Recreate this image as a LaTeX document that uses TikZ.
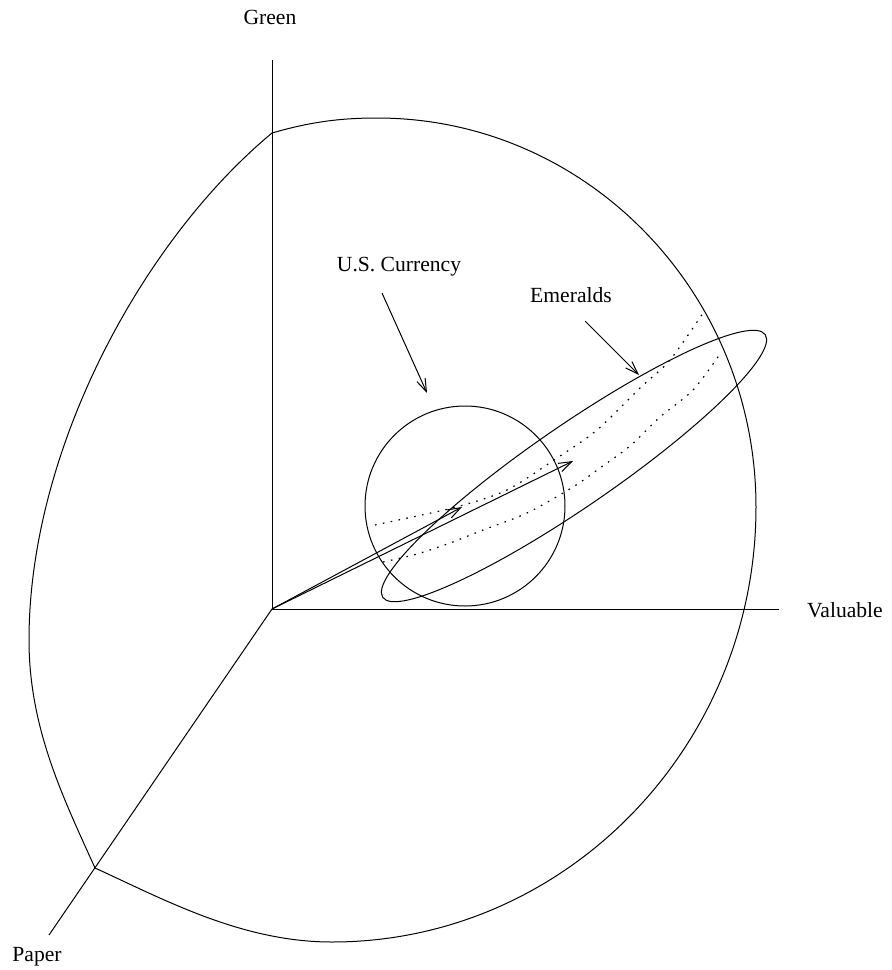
\documentclass[tikz,border=0pt]{standalone}
\usepackage{fontspec}
\setmainfont{Liberation Serif}
\usepackage{tikz}
\usetikzlibrary{
  arrows.meta,
  shapes.geometric
}

\begin{document}
\begin{tikzpicture}[
    x=0.5pt, y=-0.5pt,
    line width=0.5pt,
    >={Straight Barb[length=6.5pt,width=4.5pt]},
    every node/.style={font=\fontsize{10.8}{13}\selectfont, inner sep=0pt},
    dotline/.style={line width=0.6pt, dash pattern=on 0.8pt off 3.2pt}
]
\useasboundingbox (0,0) rectangle (891,970);

% ========== 坐标轴 ==========
\coordinate (O) at (272,609);
\coordinate (Gtop) at (272,60);
\coordinate (Vend) at (779,609);
\coordinate (Pend) at (49,935);
\draw (O) -- (Gtop);
\draw (O) -- (Vend);
\draw (O) -- (Pend);

% ========== 坐标轴标签 ==========
\node (green) at (270,17) {Green};
\node (valuable) at (845,610) {Valuable};
\node (paper) at (37,957) {Paper};

% ========== 球面轮廓 ==========
\coordinate (Top) at (272,133);
\coordinate (Kink) at (95,868);
\draw (Top) .. controls (310,122) and (340,118) .. (377,118)
      .. controls (587,118) and (756,293) .. (756,507)
      .. controls (756,746) and (566,942) .. (332,942)
      .. controls (242,942) and (165,900) .. (Kink);
\draw (Top) .. controls (142,241) and (29,450) .. (29,640)
      .. controls (29,730) and (65,801) .. (Kink);

% ========== 两个区域 ==========
\node[circle, draw, minimum size=100pt] (usd) at (465,506) {};
\node[ellipse, draw, minimum width=232pt, minimum height=41pt,
      rotate=34.5] (emerald) at (574,466) {};

% 虚线（球面上的弧）
\draw[dotline] plot[smooth] coordinates {
    (375,525) (417,516) (460,506) (507,490) (557,458) (597,430)
    (640,388) (670,360) (703,313)};
\draw[dotline] plot[smooth] coordinates {
    (383,562) (417,554) (450,543) (483,530) (527,513) (573,487)
    (600,468) (630,446) (660,417) (693,390) (720,354)};

% ========== 向量 ==========
\coordinate (vUsd) at (462,507);
\coordinate (vEm) at (573,461);
\draw[->] (O) -- (vUsd);
\draw[->] (O) -- (vEm);

% ========== 标注 ==========
\node (currency) at (399,267) {U.S. Currency};
\node (emeralds) at (571,295) {Emeralds};
\coordinate (cFrom) at (382,293);
\coordinate (cTo) at (427,393);
\coordinate (eFrom) at (585,321);
\coordinate (eTo) at (639,375);
\draw[->] (cFrom) -- (cTo);
\draw[->] (eFrom) -- (eTo);

\end{tikzpicture}
\end{document}
